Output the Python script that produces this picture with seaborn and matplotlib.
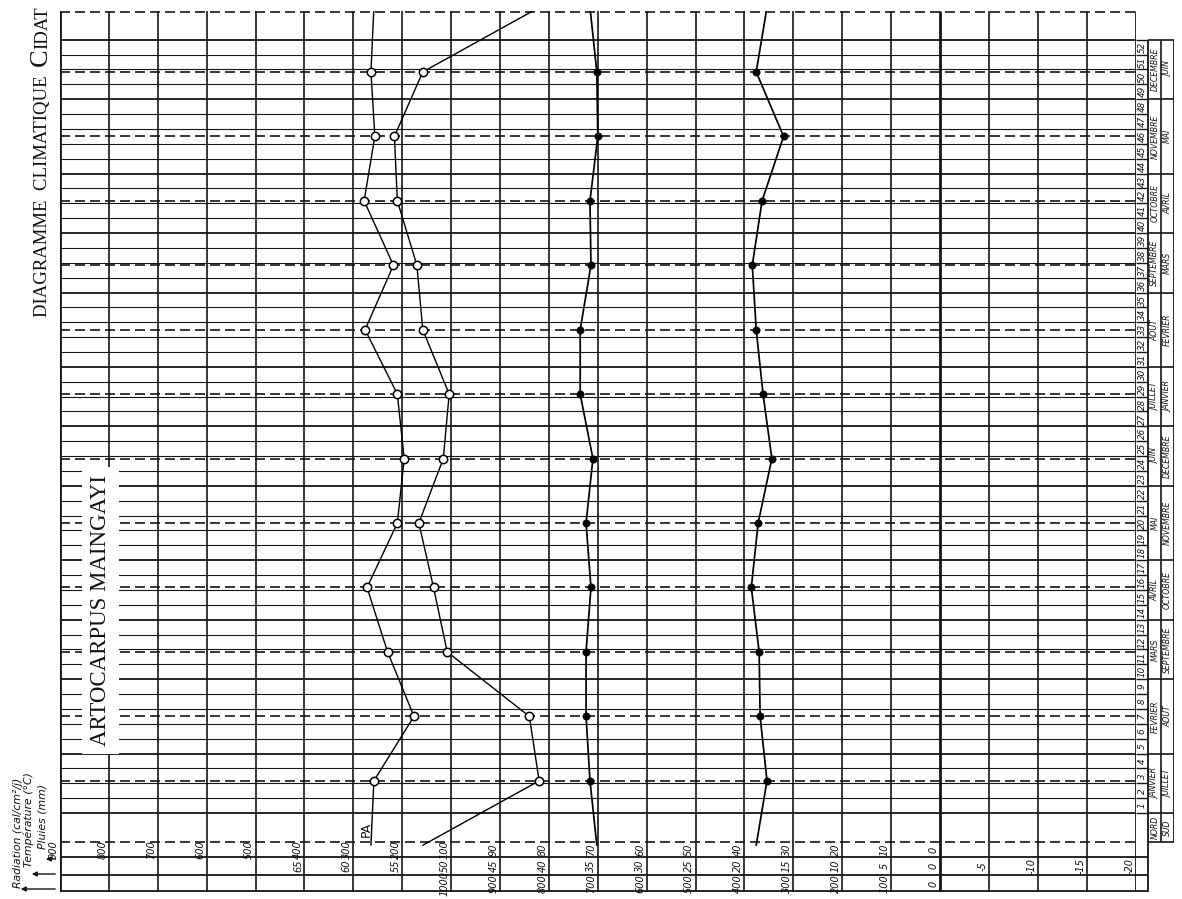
import numpy as np
import pandas as pd
import matplotlib
matplotlib.use("Agg")
import matplotlib.pyplot as plt
import matplotlib.transforms as mtrans
import seaborn as sns

# ---------------- data ----------------
months = list(range(1, 13))
rain_mm = [82, 84, 108, 136, 166, 116, 104, 158, 170, 210, 216, 158]      # open circles, right
pa_mm = [258, 176, 230, 272, 210, 196, 210, 276, 218, 278, 256, 264]      # open circles, left (PA)
temp_c = [35.8, 36.2, 36.2, 35.7, 36.2, 35.5, 36.8, 36.8, 35.7, 35.8, 35.0, 35.1]  # filled dots
radiation = [354, 368, 370, 386, 372, 344, 362, 376, 384, 364, 320, 376]  # filled dots

grid_ticks = list(range(90, -25, -5))                     # temperature units of the grid
pluies_labels = ["900", "800", "700", "600", "500", "400", "300", "200", "100",
                 "90", "80", "70", "60", "50", "40", "30", "20", "10", "0"]
temp_labels = [str(t) for t in range(65, -25, -5)]
rad_labels = ["1000", "900", "800", "700", "600", "500", "400", "300", "200", "100", "0"]
weeks = list(range(1, 53))
nord = ["JANVIER", "FEVRIER", "MARS", "AVRIL", "MAI", "JUIN", "JUILLET", "AOUT",
        "SEPTEMBRE", "OCTOBRE", "NOVEMBRE", "DECEMBRE"]
sud = ["JUILLET", "AOUT", "SEPTEMBRE", "OCTOBRE", "NOVEMBRE", "DECEMBRE",
       "JANVIER", "FEVRIER", "MARS", "AVRIL", "MAI", "JUIN"]
month_bounds = [0, 4, 9, 13, 17, 22, 26, 30, 35, 39, 43, 48, 52]


# ---------------- scales ----------------
def rain_axis(mm):
    return mm / 2.0 if mm <= 100 else 50 + (mm - 100) / 20.0


def rad_axis(r):
    return r / 20.0


def month_week(m):
    return (m - 0.5) * 52 / 12.0


def cyclic_frame(vals, conv):
    mm = [0] + months + [13]
    vv = [vals[-1]] + vals + [vals[0]]
    return pd.DataFrame({"w": [month_week(m) for m in mm], "x": [conv(v) for v in vv]})


sns.set_theme(style="white")
plt.rcParams["font.family"] = ["Liberation Serif", "DejaVu Serif"]

W, H = 1182, 899
fig = plt.figure(figsize=(W / 100, H / 100), dpi=100)
fig.patch.set_facecolor("white")


def fx(px):
    return px / W


def fy(py):
    return 1 - py / H


YLIM = (-5.31, 53.93)
ax = fig.add_axes([fx(60), fy(892), fx(1135.6) - fx(60), fy(11) - fy(892)])
ax.set_xlim(90, -20)
ax.set_ylim(*YLIM)
ax.axis("off")

LC = "#151515"
# vertical grid
for t in grid_ticks:
    lw = 2.0 if t in (0, 90, -20) else 1.2
    ax.vlines(t, YLIM[0], YLIM[1], color=LC, lw=lw, zorder=1)
# weekly horizontal lines
for w in range(0, 53):
    lw = 1.3 if w in month_bounds else 0.8
    ax.hlines(w, 90, -20, color=LC, lw=lw, zorder=1)
# month dashed lines
for m in months:
    ax.hlines(month_week(m), 90, -20, color=LC, lw=1.2, linestyles=(0, (6, 3)), zorder=1)
ax.hlines(-1.95, 90, -20, color=LC, lw=1.2, linestyles=(0, (6, 3)), zorder=1)
ax.hlines(YLIM[1] - 0.05, 90, -20, color=LC, lw=1.2, linestyles=(0, (6, 3)), zorder=1)
# label rows
for w in (-2.96, -4.17, YLIM[0] + 0.05):
    ax.hlines(w, 90, -20, color=LC, lw=1.3, zorder=1)

# ---------------- series ----------------
series = [
    (cyclic_frame(rain_mm, rain_axis), "open", 1.0),
    (cyclic_frame(pa_mm, rain_axis), "open", 1.0),
    (cyclic_frame(temp_c, lambda v: v), "filled", 1.25),
    (cyclic_frame(radiation, rad_axis), "filled", 1.25),
]
for df, kind, lw in series:
    sns.lineplot(data=df, x="x", y="w", orient="y", sort=False, estimator=None,
                 color="black", lw=lw, ax=ax, zorder=3, legend=False)
    pts = df.iloc[1:-1]
    if kind == "open":
        sns.scatterplot(data=pts, x="x", y="w", marker="o", s=36, facecolor="white",
                        edgecolor="black", linewidth=1.1, ax=ax, zorder=4, legend=False)
    else:
        sns.scatterplot(data=pts, x="x", y="w", marker="o", s=28, color="black",
                        edgecolor="black", ax=ax, zorder=4, legend=False)
ax.set_xlim(90, -20)
ax.set_ylim(*YLIM)
ax.axis("off")

# ---------------- axis labels in the bottom rows ----------------
off = mtrans.offset_copy(ax.transData, fig=fig, x=-1.5, y=0, units="dots")
hand = dict(family=["DejaVu Sans"], style="italic", fontsize=7, rotation=90,
            ha="right", va="center", transform=off, color="#111")
for t, s in zip(grid_ticks, pluies_labels):
    ax.text(t, -2.45, s, **hand)
for t, s in zip(range(65, -25, -5), temp_labels):
    ax.text(t, -3.57, s, **hand)
for t, s in zip(range(50, -5, -5), rad_labels):
    ax.text(t, -4.74, s, **hand)

ax.text(58.7, -1.1, "PA", family=["DejaVu Sans"], fontsize=9, rotation=90,
        ha="center", va="center", color="#111")

ax.text(85.9, 13.65, "ARTOCARPUS MAINGAYI", fontsize=16.5, rotation=90,
        ha="center", va="center", color="#111", zorder=6,
        bbox=dict(boxstyle="square,pad=0.35", fc="white", ec="none"))

# ---------------- week / month table ----------------
ax2 = fig.add_axes([fx(1135.6), fy(892), fx(1174) - fx(1135.6), fy(11) - fy(892)])
ax2.set_xlim(0, 3)
ax2.set_ylim(*YLIM)
ax2.axis("off")
ax2.vlines(1, YLIM[0], 52, color=LC, lw=1.3)
ax2.vlines(2, -1.95, 52, color=LC, lw=1.2)
ax2.vlines(3, -1.95, 52, color=LC, lw=1.3)
for w in range(0, 53):
    ax2.hlines(w, 0, 1, color=LC, lw=1.0)
for w in month_bounds:
    ax2.hlines(w, 1, 3, color=LC, lw=1.2)
ax2.hlines(-1.95, 1, 3, color=LC, lw=1.2)
for w in (-2.96, -4.17, YLIM[0] + 0.05):
    ax2.hlines(w, 0, 1, color=LC, lw=1.3)
small = dict(family=["DejaVu Sans"], style="italic", rotation=90, ha="center",
             va="center", color="#111")
for k in weeks:
    ax2.text(0.5, k - 0.5, str(k), fontsize=6.3, **small)
for i in range(12):
    mid = (month_bounds[i] + month_bounds[i + 1]) / 2
    ax2.text(1.5, mid, nord[i], fontsize=5.6, **small)
    ax2.text(2.5, mid, sud[i], fontsize=5.6, **small)
ax2.text(1.5, -0.98, "NORD", fontsize=5.6, **small)
ax2.text(2.5, -0.98, "SUD", fontsize=5.6, **small)

# ---------------- headings ----------------
renderer = fig.canvas.get_renderer()
parts = [("DIAGRAMME  CLIMATIQUE  ", 13.5), ("C", 19), ("IDAT", 13.5)]
objs = []
for s, fs in parts:
    t = fig.text(0, 0, s, fontsize=fs, rotation=90, rotation_mode="anchor",
                 ha="left", va="baseline", color="#111")
    objs.append(t)
fig.canvas.draw()
lens = [o.get_window_extent(renderer).height for o in objs]
y0 = 6 + sum(lens)
for o, L in zip(objs, lens):
    o.set_position((fx(47), fy(y0)))
    y0 -= L

leg = dict(family=["DejaVu Sans"], style="italic", fontsize=7.8, rotation=90,
           rotation_mode="anchor", ha="left", va="baseline", color="#111")
fig.text(fx(21), fy(888), "Radiation (cal/cm²/j)", **leg)
fig.text(fx(32), fy(867), "Température (°C)", **leg)
fig.text(fx(45), fy(849), "Pluies (mm)", **leg)
arr = dict(arrowstyle="-|>", color="#111", lw=1.0, mutation_scale=7)
fig.add_artist(matplotlib.patches.FancyArrowPatch((fx(58), fy(889)), (fx(18), fy(889)),
                                                  transform=fig.transFigure, **arr))
fig.add_artist(matplotlib.patches.FancyArrowPatch((fx(58), fy(874)), (fx(29), fy(874)),
                                                  transform=fig.transFigure, **arr))
fig.add_artist(matplotlib.patches.FancyArrowPatch((fx(58), fy(859)), (fx(43), fy(859)),
                                                  transform=fig.transFigure, **arr))

fig.savefig("out.png", dpi=100, facecolor="white")
